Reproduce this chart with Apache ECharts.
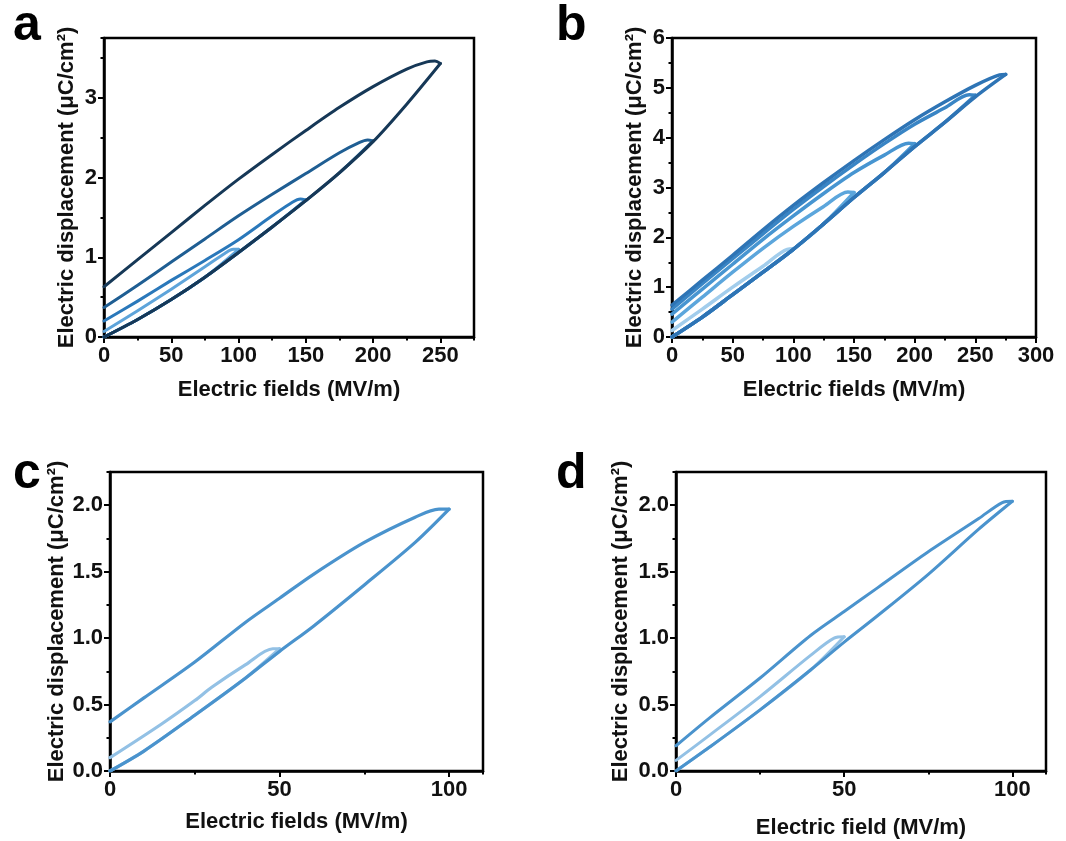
<!DOCTYPE html>
<html>
<head>
<meta charset="utf-8">
<script src="https://cdn.jsdelivr.net/npm/echarts@6/dist/echarts.min.js"></script>
<style>
  html, body { margin: 0; padding: 0; background: #fff; }
  #chart { width: 1066px; height: 841px; }
</style>
</head>
<body>
<div id="chart"></div>
<script>
// ---- Panel a: unipolar D–E loops at 100/150/200/250 MV/m ----
const aLower = [[0,0],[25,0.22],[50,0.47],[75,0.75],[100,1.06],[125,1.38],[150,1.71],[175,2.06],[200,2.45],[225,2.92],[250,3.43]];
const aUpper250 = [[250,3.43],[246,3.46],[240,3.45],[225,3.36],[200,3.14],[175,2.88],[150,2.59],[125,2.29],[100,1.98],[75,1.65],[50,1.31],[25,0.97],[0,0.63]];
const aUpper200 = [[200,2.46],[196,2.47],[190,2.44],[175,2.31],[150,2.05],[125,1.79],[100,1.52],[75,1.23],[50,0.94],[25,0.65],[0,0.37]];
const aUpper150 = [[150,1.72],[146,1.73],[140,1.69],[125,1.52],[100,1.22],[75,0.96],[50,0.71],[25,0.45],[0,0.2]];
const aUpper100 = [[100,1.1],[96,1.1],[90,1.05],[75,0.88],[50,0.6],[25,0.33],[0,0.07]];

// ---- Panel b: loops at 100/150/200/250/275 MV/m ----
const bLower = [[0,0],[25,0.4],[50,0.85],[75,1.3],[100,1.76],[125,2.27],[150,2.8],[175,3.3],[200,3.82],[225,4.31],[250,4.82],[275,5.27]];
const bUpper275 = [[275,5.27],[270,5.26],[250,5.05],[225,4.72],[200,4.36],[175,3.96],[150,3.54],[125,3.1],[100,2.64],[75,2.15],[50,1.64],[25,1.14],[0,0.64]];
const bUpper250 = [[250,4.85],[245,4.86],[225,4.6],[200,4.27],[175,3.88],[150,3.46],[125,3.02],[100,2.56],[75,2.07],[50,1.57],[25,1.07],[0,0.56]];
const bUpper200 = [[200,3.88],[195,3.89],[175,3.65],[150,3.3],[125,2.88],[100,2.43],[75,1.96],[50,1.46],[25,0.96],[0,0.46]];
const bUpper150 = [[150,2.9],[145,2.91],[125,2.62],[100,2.22],[75,1.78],[50,1.3],[25,0.8],[0,0.3]];
const bUpper100 = [[100,1.77],[95,1.76],[75,1.42],[50,1.0],[25,0.56],[0,0.13]];

// ---- Panel c: loops at 50/100 MV/m ----
const cLower = [[0,0],[10,0.15],[25,0.42],[40,0.7],[50,0.9],[60,1.09],[75,1.4],[90,1.72],[100,1.97]];
const cUpper100 = [[100,1.97],[97,1.97],[90,1.91],[75,1.72],[60,1.48],[50,1.3],[40,1.12],[25,0.82],[10,0.55],[0,0.37]];
const cUpper50 = [[50,0.92],[48,0.92],[40,0.8],[30,0.63],[25,0.53],[15,0.35],[0,0.1]];

// ---- Panel d: loops at 50/100 MV/m ----
const dLower = [[0,0],[10,0.18],[25,0.46],[40,0.76],[50,0.97],[60,1.17],[75,1.48],[90,1.82],[100,2.03]];
const dUpper100 = [[100,2.03],[97,2.02],[90,1.9],[75,1.65],[60,1.38],[50,1.2],[40,1.02],[25,0.7],[10,0.4],[0,0.19]];
const dUpper50 = [[50,1.01],[47,1.0],[40,0.87],[25,0.56],[10,0.27],[0,0.08]];

// tick settings per panel: [min, max, major step]
const xTicks = { a: [0, 275, 50], b: [0, 300, 50], c: [0, 110, 50], d: [0, 110, 50] };
const yTicks = { a: [0, 3.75, 1], b: [0, 6, 1], c: [0, 2.25, 0.5], d: [0, 2.25, 0.5] };

const FONT = '"Liberation Sans", Arial, sans-serif';
const grids = [
  { left: 104, top: 38, width: 370, height: 299 },
  { left: 672, top: 38, width: 364, height: 299 },
  { left: 110, top: 472, width: 373, height: 299 },
  { left: 676, top: 472, width: 370, height: 299 }
].map(g => Object.assign({ show: true, borderColor: '#000', borderWidth: 2.5, backgroundColor: 'transparent' }, g));

const xNames = ['Electric fields (MV/m)', 'Electric fields (MV/m)', 'Electric fields (MV/m)', 'Electric field (MV/m)'];
const yName = 'Electric displacement (μC/cm²)';
const xNameGaps = [42, 42, 40, 46];
const yNameGaps = [26, 26, 42, 44];
const keys = ['a', 'b', 'c', 'd'];

const xAxes = [], yAxes = [];
keys.forEach((k, i) => {
  const [xmin, xmax, xi] = xTicks[k];
  const [ymin, ymax, yi] = yTicks[k];
  const dec = yi < 1 ? 1 : 0;
  // major axes with labels
  xAxes.push({
    type: 'value', gridIndex: i, min: xmin, max: xmax, interval: xi,
    name: xNames[i], nameLocation: 'middle', nameGap: xNameGaps[i],
    nameTextStyle: { fontFamily: FONT, fontWeight: 'bold', fontSize: 22, color: '#111' },
    axisLine: { show: true, onZero: false, lineStyle: { color: '#000', width: 2.5 } },
    axisTick: { show: true, inside: false, length: 6, lineStyle: { color: '#000', width: 2 } },
    axisLabel: { show: true, margin: 8, showMaxLabel: xmax % xi === 0, fontFamily: FONT, fontWeight: 'bold', fontSize: 22, color: '#111' },
    splitLine: { show: false }
  });
  yAxes.push({
    type: 'value', gridIndex: i, min: ymin, max: ymax, interval: yi,
    name: yName, nameLocation: 'middle', nameGap: yNameGaps[i], nameRotate: 90,
    nameTextStyle: { fontFamily: FONT, fontWeight: 'bold', fontSize: 22, color: '#111' },
    axisLine: { show: true, onZero: false, lineStyle: { color: '#000', width: 2.5 } },
    axisTick: { show: true, inside: false, length: 6, lineStyle: { color: '#000', width: 2 } },
    axisLabel: { show: true, margin: 7, showMaxLabel: Math.abs(ymax / yi - Math.round(ymax / yi)) < 1e-9,
      formatter: v => v.toFixed(dec), fontFamily: FONT, fontWeight: 'bold', fontSize: 22, color: '#111' },
    splitLine: { show: false }
  });
});
// minor tick axes (half the major step, short ticks, no labels)
keys.forEach((k, i) => {
  const [xmin, xmax, xi] = xTicks[k];
  const [ymin, ymax, yi] = yTicks[k];
  xAxes.push({
    type: 'value', gridIndex: i, min: xmin, max: xmax, interval: xi / 2, position: 'bottom',
    axisLine: { show: false }, axisLabel: { show: false }, splitLine: { show: false },
    axisTick: { show: true, inside: false, length: 3.5, lineStyle: { color: '#000', width: 2 } }
  });
  yAxes.push({
    type: 'value', gridIndex: i, min: ymin, max: ymax, interval: yi / 2, position: 'left',
    axisLine: { show: false }, axisLabel: { show: false }, splitLine: { show: false },
    axisTick: { show: true, inside: false, length: 3.5, lineStyle: { color: '#000', width: 2 } }
  });
});

const series = [];
function branch(grid, data, color, width) {
  series.push({
    type: 'line', xAxisIndex: grid, yAxisIndex: grid, data: data,
    showSymbol: false, smooth: 0.3, silent: true,
    lineStyle: { color: color, width: width, cap: 'round', join: 'round' }
  });
}
function loop(grid, lower, upper, color, width) {
  const tipX = upper[0][0];
  const lo = lower.filter(p => p[0] < tipX).concat([upper[0]]);
  branch(grid, lo, color, width);
  branch(grid, upper, color, width);
}

// a: smallest loops first so the large outer loop sits on top
loop(0, aLower, aUpper100, '#5ea4da', 3);
loop(0, aLower, aUpper150, '#2a78ba', 3);
loop(0, aLower, aUpper200, '#1f5e93', 3);
loop(0, aLower, aUpper250, '#163857', 3);

// b
loop(1, bLower, bUpper100, '#a2cdec', 3.5);
loop(1, bLower, bUpper150, '#5ca6dc', 3.5);
loop(1, bLower, bUpper200, '#4795d1', 3.5);
loop(1, bLower, bUpper250, '#3985c5', 3.5);
loop(1, bLower, bUpper275, '#2e74b5', 3.5);

// c
loop(2, cLower, cUpper50, '#93c1e5', 3.2);
loop(2, cLower, cUpper100, '#4a93cd', 3.2);

// d
loop(3, dLower, dUpper50, '#93c1e5', 3);
loop(3, dLower, dUpper100, '#4a93cd', 3);

const letters = [
  { text: 'a', left: 8, top: -4 },
  { text: 'b', left: 551, top: -4 },
  { text: 'c', left: 8, top: 444 },
  { text: 'd', left: 551, top: 444 }
].map(t => Object.assign({ textStyle: { fontFamily: FONT, fontWeight: 'bold', fontSize: 50, color: '#000' } }, t));

const chart = echarts.init(document.getElementById('chart'), null, { renderer: 'canvas' });
chart.setOption({
  animation: false,
  backgroundColor: '#fff',
  title: letters,
  grid: grids,
  xAxis: xAxes,
  yAxis: yAxes,
  series: series
});
</script>
</body>
</html>
